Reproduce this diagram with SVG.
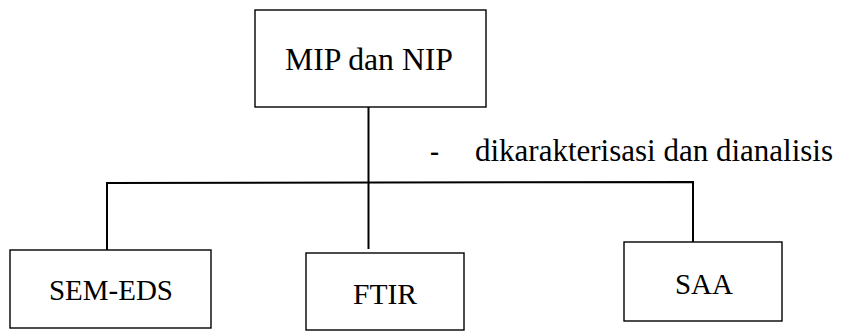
<svg xmlns="http://www.w3.org/2000/svg" width="845" height="331" viewBox="0 0 845 331">
<style>
.box{fill:#fff;stroke:#000;stroke-width:1.4}
text{font-family:"Liberation Serif","Times New Roman",Times,"Nimbus Roman","DejaVu Serif",serif;fill:#000}
.t{text-anchor:middle}
.c{fill:none;stroke:#000;stroke-width:2}
</style>
<rect width="845" height="331" fill="#fff"/>
<g id="connectors">
<line class="c" x1="368.5" y1="107" x2="368.5" y2="249"/>
<polyline class="c" points="107,250 107,183 693,182 693,242"/>
</g>
<g id="node-mip">
<rect class="box" x="255" y="10" width="231" height="97"/>
<text class="t" x="369" y="70" font-size="31" textLength="168" lengthAdjust="spacingAndGlyphs">MIP dan NIP</text>
</g>
<g id="label">
<text font-size="31" x="430" y="161" textLength="9" lengthAdjust="spacingAndGlyphs">-</text>
<text font-size="31" x="475" y="161" textLength="358" lengthAdjust="spacingAndGlyphs">dikarakterisasi dan dianalisis</text>
</g>
<g id="node-sem">
<rect class="box" x="10" y="250" width="201" height="78"/>
<text class="t" x="111" y="300" font-size="29.5" textLength="124" lengthAdjust="spacingAndGlyphs">SEM-EDS</text>
</g>
<g id="node-ftir">
<rect class="box" x="306" y="253" width="158" height="77"/>
<text class="t" x="385" y="304" font-size="29.5" textLength="64" lengthAdjust="spacingAndGlyphs">FTIR</text>
</g>
<g id="node-saa">
<rect class="box" x="624" y="242" width="158" height="79"/>
<text class="t" x="704" y="294" font-size="29.5" textLength="58" lengthAdjust="spacingAndGlyphs">SAA</text>
</g>
</svg>
